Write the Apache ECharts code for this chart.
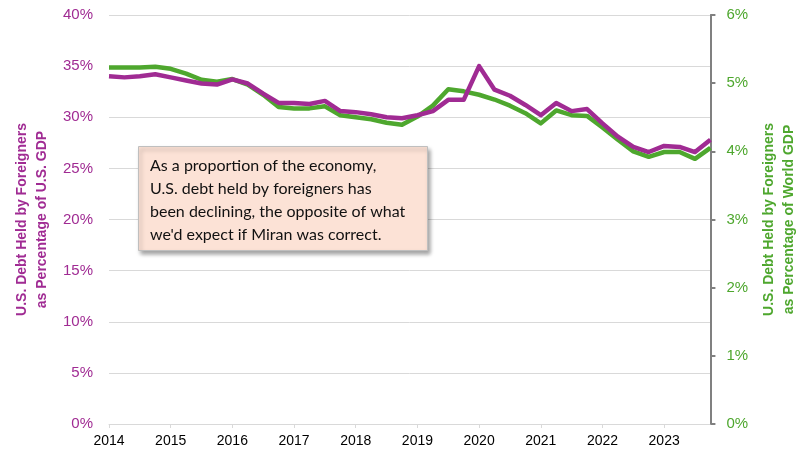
<!DOCTYPE html>
<html>
<head>
<meta charset="utf-8">
<script src="https://cdn.jsdelivr.net/npm/echarts@6/dist/echarts.min.js"></script>
<style>
  html, body { margin: 0; padding: 0; background: #fff; }
  #chart { width: 807px; height: 460px; }
</style>
</head>
<body>
<div id="chart"></div>
<script>
  // quarterly, 2014 Q1 .. 2023 Q4
  const years = [2014, 2015, 2016, 2017, 2018, 2019, 2020, 2021, 2022, 2023];
  const quarters = [];
  years.forEach(y => { for (let q = 1; q <= 4; q++) quarters.push(y + ' Q' + q); });

  // % of U.S. GDP (left axis)
  const shareUsGdp = [
    34.0, 33.9, 34.0, 34.2, 33.9, 33.6, 33.3, 33.2, 33.7, 33.3,
    32.3, 31.4, 31.4, 31.3, 31.6, 30.6, 30.5, 30.3, 30.0, 29.9,
    30.2, 30.6, 31.7, 31.7, 35.0, 32.7, 32.1, 31.2, 30.2, 31.4,
    30.6, 30.8, 29.4, 28.1, 27.1, 26.6, 27.2, 27.1, 26.6, 27.8
  ];
  // % of world GDP (right axis)
  const shareWorldGdp = [
    5.23, 5.23, 5.23, 5.24, 5.21, 5.14, 5.05, 5.02, 5.06, 4.98,
    4.83, 4.65, 4.63, 4.63, 4.66, 4.53, 4.50, 4.47, 4.42, 4.39,
    4.51, 4.67, 4.91, 4.88, 4.83, 4.76, 4.67, 4.56, 4.41, 4.60,
    4.53, 4.52, 4.35, 4.17, 4.00, 3.92, 3.99, 3.99, 3.89, 4.05
  ];

  const noteLines = [
    'As a proportion of the economy,',
    'U.S. debt held by foreigners has',
    'been declining, the opposite of what',
    "we'd expect if Miran was correct."
  ];

  const purple = '#A02B93';
  const green = '#4EA72E';
  const font = '"Liberation Sans", Arial, sans-serif';

  const chart = echarts.init(document.getElementById('chart'));

  const yearTick = i => i % 4 === 0;

  chart.setOption({
    animation: false,
    grid: { left: 109, right: 95, top: 15, bottom: 36 },
    xAxis: {
      type: 'category',
      data: quarters,
      boundaryGap: false,
      axisLine: { lineStyle: { color: '#D9D9D9', width: 1 } },
      axisTick: { interval: yearTick, length: 4, lineStyle: { color: '#D9D9D9' } },
      axisLabel: {
        interval: yearTick,
        formatter: v => v.slice(0, 4),
        color: '#000', fontSize: 14, fontFamily: font, margin: 10
      }
    },
    yAxis: [
      {
        type: 'value', min: 0, max: 40, interval: 5,
        axisLine: { show: false },
        axisTick: { show: false },
        axisLabel: { formatter: '{value}%', color: purple, fontSize: 15, fontFamily: font, margin: 16 },
        splitLine: { lineStyle: { color: '#D9D9D9', width: 1 } },
        name: 'U.S. Debt Held by Foreigners\nas Percentage of U.S. GDP',
        nameLocation: 'middle', nameRotate: 90, nameGap: 56,
        nameTextStyle: { color: purple, fontSize: 14, fontWeight: 'bold', fontFamily: font, lineHeight: 20 }
      },
      {
        type: 'value', min: 0, max: 6, interval: 1, position: 'right',
        axisLine: { show: true, lineStyle: { color: '#808080', width: 2 } },
        axisTick: { show: true, length: 5, lineStyle: { color: '#808080', width: 2 } },
        axisLabel: { formatter: '{value}%', color: green, fontSize: 15, fontFamily: font, margin: 16 },
        splitLine: { show: false },
        name: 'U.S. Debt Held by Foreigners\nas Percentage of World GDP',
        nameLocation: 'middle', nameRotate: 90, nameGap: 45,
        nameTextStyle: { color: green, fontSize: 14, fontWeight: 'bold', fontFamily: font, lineHeight: 20 }
      }
    ],
    series: [
      {
        name: 'World GDP', type: 'line', yAxisIndex: 1, data: shareWorldGdp,
        showSymbol: false, lineStyle: { color: green, width: 4.5, join: 'round' }, z: 2
      },
      {
        name: 'U.S. GDP', type: 'line', yAxisIndex: 0, data: shareUsGdp,
        showSymbol: false, lineStyle: { color: purple, width: 4.5, join: 'round' }, z: 3
      }
    ],
    graphic: [
      {
        type: 'rect', left: 138, top: 146, z: 100,
        shape: { x: 0, y: 0, width: 289, height: 104 },
        style: {
          fill: '#FCE2D6', stroke: '#BFBFBF', lineWidth: 1,
          shadowBlur: 4, shadowOffsetX: 2, shadowOffsetY: 3, shadowColor: 'rgba(0,0,0,0.35)'
        }
      },
      {
        type: 'text', left: 150, top: 154, z: 101,
        style: {
          text: noteLines.join('\n'),
          font: '16px Lato, "Noto Sans", sans-serif',
          lineHeight: 23, fill: '#111'
        }
      }
    ]
  });
</script>
</body>
</html>
